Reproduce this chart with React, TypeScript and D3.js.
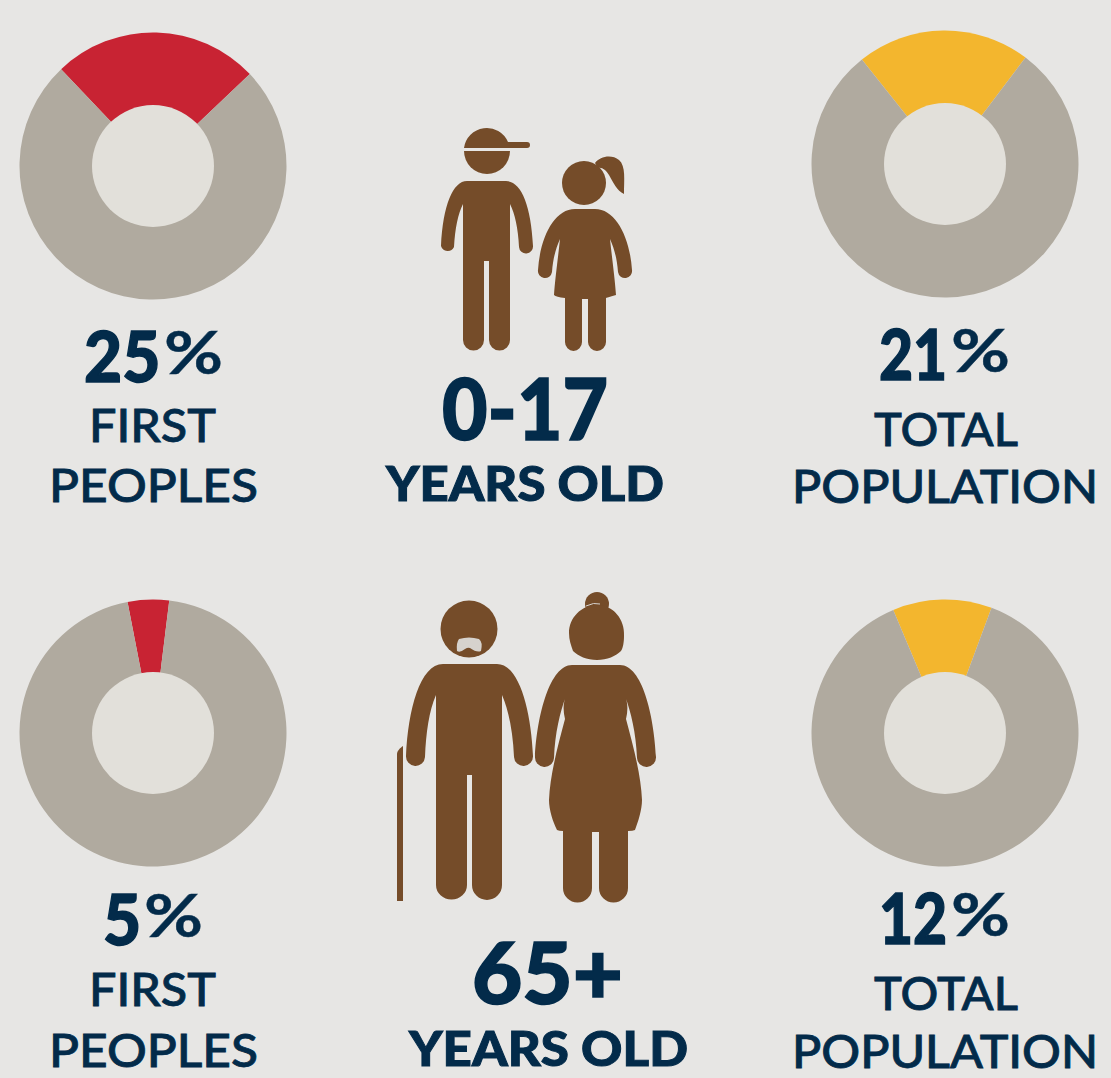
import React from "react";
import * as d3 from "d3";

const W = 1111, H = 1078;
const BG = "#e7e6e4", RING = "#b0aa9f", HOLE = "#e2e0da", RED = "#c82333", YELLOW = "#f3b62e", BROWN = "#754c29", NAVY = "#032b4a";

const groups = ["FIRST PEOPLES", "TOTAL POPULATION", "FIRST PEOPLES", "TOTAL POPULATION"];
const shares = [25, 21, 5, 12];
const colors = [RED, YELLOW, RED, YELLOW];
const centersX = [153, 945, 153, 945];
const centersY = [166, 164, 733, 733];
const rotations = [1.5, -0.7, -2, -1.2];

const FONT = "Lato, 'Noto Sans', sans-serif";

type T = { t: string; x: number; w: number; y: number; s: number; fw: number; sw: number };
const labels: T[] = [
  { t: "FIRST", x: 89, w: 127, y: 442, s: 46, fw: 500, sw: 0.8 },
  { t: "PEOPLES", x: 49, w: 209, y: 502, s: 46, fw: 500, sw: 0.8 },
  { t: "TOTAL", x: 874, w: 144, y: 446, s: 46, fw: 500, sw: 0.8 },
  { t: "POPULATION", x: 792, w: 306, y: 503, s: 46, fw: 500, sw: 0.8 },
  { t: "FIRST", x: 89, w: 127, y: 1006, s: 46, fw: 500, sw: 0.8 },
  { t: "PEOPLES", x: 49, w: 209, y: 1067, s: 46, fw: 500, sw: 0.8 },
  { t: "TOTAL", x: 874, w: 144, y: 1010, s: 46, fw: 500, sw: 0.8 },
  { t: "POPULATION", x: 792, w: 306, y: 1068, s: 46, fw: 500, sw: 0.8 },
  { t: "0-17", x: 442, w: 166, y: 440, s: 86, fw: 900, sw: 1.6 },
  { t: "YEARS OLD", x: 386, w: 278, y: 501, s: 48, fw: 900, sw: 1 },
  { t: "65+", x: 472, w: 151, y: 1004, s: 86, fw: 900, sw: 1.6 },
  { t: "YEARS OLD", x: 409, w: 279, y: 1066, s: 48, fw: 900, sw: 1 },
];
const pctDigits: T[] = [
  { t: "25", x: 84, w: 76, y: 382, s: 70, fw: 900, sw: 1.4 },
  { t: "21", x: 879, w: 67, y: 380, s: 70, fw: 900, sw: 1.4 },
  { t: "5", x: 103, w: 38, y: 945, s: 70, fw: 900, sw: 1.4 },
  { t: "12", x: 879, w: 67, y: 944, s: 70, fw: 900, sw: 1.4 },
];
const digitScale = [0.94, 0.84, 0.94, 0.84];
const pctSigns: T[] = [
  { t: "%", x: 164, w: 59, y: 374, s: 60, fw: 700, sw: 0.4 },
  { t: "%", x: 951, w: 59, y: 372, s: 60, fw: 700, sw: 0.4 },
  { t: "%", x: 144, w: 59, y: 937, s: 60, fw: 700, sw: 0.4 },
  { t: "%", x: 951, w: 59, y: 936, s: 60, fw: 700, sw: 0.4 },
];

const boy = "M467 181 L506 181 C521 181 531 205 533 246 A7 7 0 0 1 519 247 C518 228 515 214 510 204 L510 340 A10.5 10.5 0 0 1 489 340 L489 261 L484 261 L484 340 A10.5 10.5 0 0 1 463 340 L463 204 C458 214 455 228 454 247 A7 7 0 0 1 441 246 C443 205 453 181 467 181 Z";
const cap = "M464 148 A23 23 0 0 1 508 142 L527 142 A3 3 0 0 1 527 148 Z";
const girlBody = "M575 209 L595 209 C616 209 630 238 632 270 A7 7 0 0 1 618 272 C617 258 614 248 610 239 C612 258 615 280 616 295 Q606 298 606 298 L606 342 A9 9 0 0 1 588 342 L588 299 L582 299 L582 342 A8.5 9 0 0 1 565 342 L565 298 Q556 297 554 295 C555 280 558 258 560 239 C556 248 553 258 552 272 A7 7 0 0 1 538 270 C540 238 554 209 575 209 Z";
const pony = "M595 163 C600 156 612 154 619 160 C626 166 624 180 624 194 C617 191 613 182 609 175 C606 170 602 167 598 168 Z";
const man = "M443 664 L497 664 C519 664 531 710 533 756 A9.5 9.5 0 0 1 514 757 C513 733 509 711 502 695 L502 885 A14.5 14.5 0 0 1 472 885 L472 775 L467 775 L467 885 A15.5 14.5 0 0 1 436 885 L436 695 C429 711 426 733 425 757 A9.5 9.5 0 0 1 406 756 C408 710 420 664 443 664 Z";
const cane = "M397 754 C397 751 400 748 403 746 L403 901 L397 901 Z";
const moustache = "M459 639 Q469 636 479 639 Q483 642 481 651 Q477 653 470 648 Q468 647 465 649 Q460 653 457 651 Q456 643 459 639 Z";
const woman = "M572 665 L620 665 C642 665 654 715 656 757 A9.5 9.5 0 0 1 637 758 C636 733 631 712 625 696 C628 703 628 711 626 719 C633 745 641 775 642 800 C642 810 638 822 635 830 Q633 831 628 831 L628 888 A14.5 14.5 0 0 1 599 888 L599 832 L592 832 L592 888 A14.5 14.5 0 0 1 563 888 L563 831 Q559 831 557 830 C553 822 549 810 549 800 C550 775 558 745 565 719 C563 711 563 703 566 696 C560 712 555 733 554 758 A9.5 9.5 0 0 1 535 757 C537 715 550 665 572 665 Z";
const womanHead = "M597 605 C613 605 625 619 624 636 C624 642 623 648 621 651 C616 656 607 660 597 660 C587 660 578 656 573 651 C571 645 569 640 569 633 C569 618 581 605 597 605 Z";

function Text({ d }: { d: T }) {
  return (
    <text x={d.x} y={d.y} fontSize={d.s} fontWeight={d.fw} textLength={d.w} lengthAdjust="spacingAndGlyphs" fill={NAVY} stroke={NAVY} strokeWidth={d.sw} fontFamily={FONT}>
      {d.t}
    </text>
  );
}

function Digits({ d, sx }: { d: T; sx: number }) {
  return (
    <text transform={`translate(${d.x},${d.y}) scale(${sx},1)`} fontSize={d.s} fontWeight={d.fw} fill={NAVY} stroke={NAVY} strokeWidth={d.sw} fontFamily={FONT}>
      {d.t}
    </text>
  );
}

export default function App() {
  const pie = d3.pie<number>().sort(null);
  return (
    <svg width={W} height={H} viewBox={`0 0 ${W} ${H}`} style={{ position: "fixed", left: 0, top: 0, background: BG }}>
      <rect width={W} height={H} fill={BG} />
      {shares.map((v, i) => {
        const half = (v / 100) * Math.PI;
        const rot = (rotations[i] * Math.PI) / 180;
        const arcs = pie.startAngle(-half + rot).endAngle(2 * Math.PI - half + rot)([v, 100 - v]);
        const arc = d3.arc<d3.PieArcDatum<number>>().innerRadius(0).outerRadius(133.5);
        return (
          <g key={i} transform={`translate(${centersX[i]},${centersY[i]})`} aria-label={groups[i]}>
            {arcs.map((a, j) => (
              <path key={j} d={arc(a) as string} fill={j === 0 ? colors[i] : RING} />
            ))}
            <circle r={61} fill={HOLE} />
          </g>
        );
      })}
      <g fill={BROWN}>
        <path d={cap} />
        <path d="M464 151 L510 151 A23 23 0 0 1 464 151 Z" />
        <path d={boy} />
        <circle cx={584} cy={183} r={22} />
        <path d={pony} />
        <path d={girlBody} />
        <circle cx={469} cy={629} r={28.5} />
        <path d={man} />
        <path d={cane} />
        <circle cx={597} cy={604} r={12} />
        <path d={womanHead} />
        <path d={woman} />
      </g>
      <path d={moustache} fill="#d6d2cd" />
      <path d="M586 606 Q594 602 600 604" stroke="#d6d2cd" strokeWidth={1} fill="none" />
      {labels.map((d, i) => <Text key={i} d={d} />)}
      {pctDigits.map((d, i) => <Digits key={i} d={d} sx={digitScale[i]} />)}
      {pctSigns.map((d, i) => <Text key={i} d={d} />)}
    </svg>
  );
}
